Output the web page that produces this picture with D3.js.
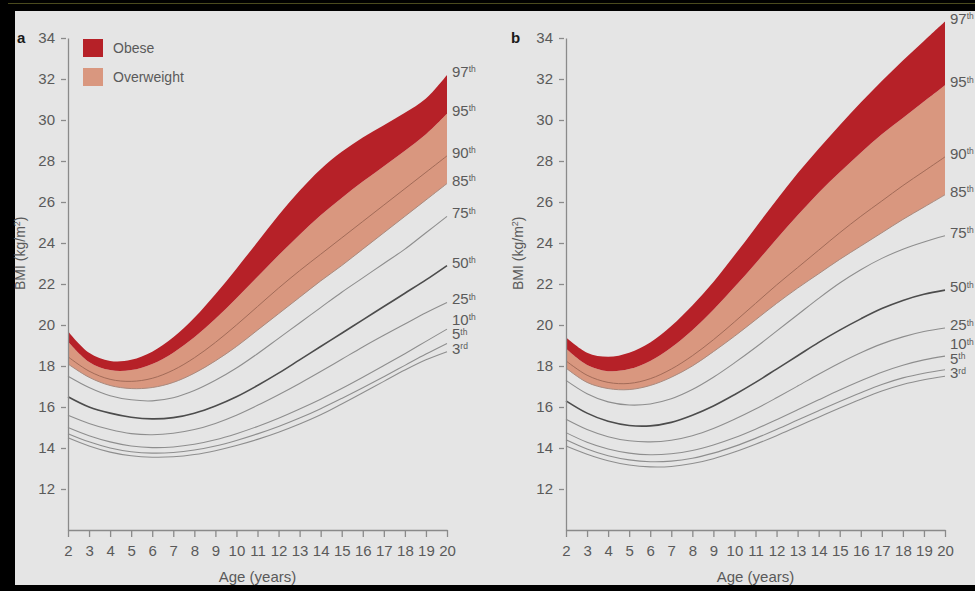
<!DOCTYPE html>
<html>
<head>
<meta charset="utf-8">
<script src="https://cdn.jsdelivr.net/npm/d3@7"></script>
<style>
  html, body { margin: 0; padding: 0; background: #000; }
  svg { display: block; }
  text { font-family: "Liberation Sans", Arial, sans-serif; }
</style>
</head>
<body>
<svg id="chart" width="975" height="591"></svg>
<script>
// Age in years (x axis) and BMI ticks (y axis)
const ages = [2, 3, 4, 5, 6, 7, 8, 9, 10, 11, 12, 13, 14, 15, 16, 17, 18, 19, 20];
const bmiTicks = [12, 14, 16, 18, 20, 22, 24, 26, 28, 30, 32, 34];

// Percentile labels (number + ordinal suffix)
const pctNumbers = ["3", "5", "10", "25", "50", "75", "85", "90", "95", "97"];
const pctSuffixes = ["rd", "th", "th", "th", "th", "th", "th", "th", "th", "th"];

// Panel a: BMI-for-age percentiles, boys
const boys3  = [14.5, 14.1, 13.8, 13.62, 13.55, 13.57, 13.68, 13.87, 14.12, 14.42, 14.77, 15.17, 15.62, 16.15, 16.7, 17.25, 17.8, 18.3, 18.7];
const boys5  = [14.7, 14.3, 14.0, 13.82, 13.75, 13.78, 13.9, 14.1, 14.37, 14.69, 15.05, 15.46, 15.92, 16.42, 16.94, 17.48, 18.03, 18.58, 19.1];
const boys10 = [15.0, 14.6, 14.3, 14.1, 14.02, 14.05, 14.18, 14.4, 14.7, 15.05, 15.45, 15.9, 16.38, 16.9, 17.45, 18.02, 18.6, 19.2, 19.8];
const boys25 = [15.6, 15.2, 14.9, 14.7, 14.65, 14.72, 14.9, 15.2, 15.6, 16.08, 16.6, 17.15, 17.73, 18.33, 18.93, 19.5, 20.05, 20.6, 21.1];
const boys50 = [16.5, 16.0, 15.7, 15.5, 15.42, 15.48, 15.7, 16.05, 16.5, 17.05, 17.65, 18.3, 18.95, 19.6, 20.25, 20.9, 21.55, 22.2, 22.9];
const boys75 = [17.5, 16.95, 16.55, 16.35, 16.3, 16.45, 16.8, 17.3, 17.9, 18.6, 19.35, 20.1, 20.85, 21.6, 22.3, 23.0, 23.7, 24.5, 25.3];
const boys85 = [18.1, 17.45, 17.05, 16.9, 16.95, 17.2, 17.65, 18.25, 18.95, 19.75, 20.55, 21.35, 22.15, 22.9, 23.7, 24.5, 25.3, 26.1, 26.9];
const boys90 = [18.45, 17.75, 17.35, 17.25, 17.4, 17.8, 18.4, 19.15, 20.0, 20.9, 21.8, 22.65, 23.45, 24.25, 25.05, 25.85, 26.65, 27.45, 28.25];
const boys95 = [19.2, 18.2, 17.8, 17.8, 18.1, 18.65, 19.4, 20.3, 21.3, 22.35, 23.4, 24.4, 25.35, 26.2, 27.0, 27.75, 28.5, 29.3, 30.3];
const boys97 = [19.7, 18.65, 18.25, 18.3, 18.7, 19.4, 20.35, 21.5, 22.75, 24.05, 25.35, 26.55, 27.6, 28.45, 29.15, 29.75, 30.35, 31.05, 32.2];

// Panel b: BMI-for-age percentiles, girls
const girls3  = [14.1, 13.7, 13.38, 13.17, 13.08, 13.1, 13.24, 13.48, 13.8, 14.18, 14.6, 15.05, 15.5, 15.95, 16.38, 16.78, 17.1, 17.33, 17.5];
const girls5  = [14.4, 13.95, 13.62, 13.42, 13.33, 13.36, 13.5, 13.75, 14.08, 14.47, 14.9, 15.36, 15.82, 16.27, 16.7, 17.1, 17.42, 17.65, 17.82];
const girls10 = [14.75, 14.28, 13.95, 13.75, 13.67, 13.72, 13.88, 14.15, 14.5, 14.92, 15.38, 15.86, 16.35, 16.83, 17.28, 17.7, 18.04, 18.3, 18.48];
const girls25 = [15.4, 14.9, 14.55, 14.35, 14.3, 14.38, 14.6, 14.95, 15.4, 15.9, 16.45, 17.02, 17.6, 18.15, 18.65, 19.08, 19.42, 19.68, 19.85];
const girls50 = [16.3, 15.7, 15.3, 15.1, 15.08, 15.25, 15.6, 16.05, 16.6, 17.2, 17.85, 18.5, 19.15, 19.75, 20.3, 20.8, 21.2, 21.5, 21.7];
const girls75 = [17.3, 16.65, 16.25, 16.1, 16.15, 16.4, 16.85, 17.45, 18.15, 18.9, 19.7, 20.5, 21.3, 22.05, 22.7, 23.25, 23.7, 24.05, 24.35];
const girls85 = [17.9, 17.2, 16.9, 16.85, 17.05, 17.45, 18.0, 18.7, 19.45, 20.25, 21.05, 21.8, 22.5, 23.2, 23.85, 24.5, 25.15, 25.75, 26.35];
const girls90 = [18.25, 17.55, 17.2, 17.15, 17.38, 17.85, 18.5, 19.28, 20.15, 21.05, 21.95, 22.8, 23.65, 24.5, 25.3, 26.05, 26.8, 27.5, 28.2];
const girls95 = [18.85, 18.05, 17.75, 17.85, 18.25, 18.9, 19.75, 20.75, 21.85, 23.0, 24.2, 25.35, 26.45, 27.45, 28.4, 29.3, 30.1, 30.9, 31.7];
const girls97 = [19.4, 18.65, 18.45, 18.65, 19.15, 19.95, 20.95, 22.1, 23.4, 24.75, 26.1, 27.4, 28.6, 29.75, 30.85, 31.9, 32.9, 33.85, 34.8];

const legendLabels = ["Obese", "Overweight"];
const panelLetters = ["a", "b"];

// ---------------------------------------------------------------
const COL = {
  bg: "#e5e5e5",
  obese: "#b62128",
  over: "#d9977f",
  line: "#8e8e8e",
  median: "#4c4c4c",
  inner: "#a26b58",
  axis: "#8a8a8a",
  text: "#5a5a5a"
};

const svg = d3.select("#chart");

// black frame and grey plate
svg.append("rect").attr("width", 975).attr("height", 591).attr("fill", "#000");
svg.append("line").attr("x1", 8).attr("x2", 975).attr("y1", 3.5).attr("y2", 3.5)
  .attr("stroke", "#4a4a1e").attr("stroke-width", 1);
svg.append("rect").attr("x", 15).attr("y", 11).attr("width", 960).attr("height", 574).attr("fill", COL.bg);

function drawPanel(opts) {
  const series = opts.series; // ordered 3rd..97th
  const x = d3.scaleLinear().domain([2, 20]).range([opts.left, opts.left + 379]);
  const y = d3.scaleLinear().domain([10, 34]).range([530, 38]);
  const curve = d3.curveCatmullRom.alpha(0.5);
  const g = svg.append("g");

  const rows = ages.map((a, i) => {
    const r = { age: a };
    series.forEach((s, k) => { r["p" + pctNumbers[k]] = s[i]; });
    return r;
  });

  const band = (lo, hi) => d3.area().curve(curve)
    .x(d => x(d.age)).y0(d => y(d[lo])).y1(d => y(d[hi]));

  g.append("path").datum(rows).attr("d", band("p85", "p95")).attr("fill", COL.over);
  g.append("path").datum(rows).attr("d", band("p95", "p97")).attr("fill", COL.obese);

  const lineGen = key => d3.line().curve(curve).x(d => x(d.age)).y(d => y(d[key]));
  pctNumbers.forEach(p => {
    if (p === "95" || p === "97") return;
    let stroke = COL.line, w = 1.1;
    if (p === "50") { stroke = COL.median; w = 1.6; }
    if (p === "90") { stroke = COL.inner; w = 1; }
    if (p === "85") { stroke = "#a98a7e"; w = 1; }
    g.append("path").datum(rows).attr("d", lineGen("p" + p))
      .attr("fill", "none").attr("stroke", stroke).attr("stroke-width", w);
  });

  // percentile labels at the right end, pushed apart where lines crowd
  const ends = series.map(s => y(s[s.length - 1]) - 3);
  const labelY = ends.slice();
  for (let k = 1; k < labelY.length; k++) {
    labelY[k] = Math.min(labelY[k], labelY[k - 1] - 14.5);
  }
  pctNumbers.forEach((p, k) => {
    const t = g.append("text")
      .attr("x", x(20) + 5).attr("y", labelY[k] + 5)
      .attr("fill", COL.text).attr("font-size", 15);
    t.append("tspan").text(p);
    t.append("tspan").text(pctSuffixes[k]).attr("font-size", 8.5).attr("dy", -4.5);
  });

  // axes
  const yAxis = g.append("g").attr("transform", `translate(${opts.left},0)`)
    .call(d3.axisLeft(y).tickValues(bmiTicks).tickSize(7).tickSizeOuter(0).tickPadding(6));
  const xAxis = g.append("g").attr("transform", "translate(0,530)")
    .call(d3.axisBottom(x).tickValues(ages).tickSize(7).tickSizeOuter(0).tickPadding(8));
  [yAxis, xAxis].forEach(ax => {
    ax.select(".domain").attr("stroke", COL.axis).attr("stroke-width", 1.3);
    ax.selectAll(".tick line").attr("stroke", COL.axis).attr("stroke-width", 1.3);
    ax.selectAll(".tick text").attr("fill", COL.text).attr("font-size", 15)
      .attr("font-family", "'Liberation Sans', Arial, sans-serif");
  });
  yAxis.selectAll(".tick line").attr("x1", -2);

  g.append("text")
    .attr("transform", `translate(${opts.left - 43},${y(23.5)}) rotate(-90)`)
    .attr("text-anchor", "middle").attr("fill", COL.text).attr("font-size", 14)
    .call(t => {
      t.append("tspan").text("BMI (kg/m");
      t.append("tspan").text("2").attr("font-size", 9).attr("dy", -5);
      t.append("tspan").text(")").attr("dy", 5);
    });

  g.append("text")
    .attr("x", (x(2) + x(20)) / 2).attr("y", 582)
    .attr("text-anchor", "middle").attr("fill", COL.text).attr("font-size", 15)
    .text("Age (years)");

  g.append("text")
    .attr("x", opts.left - opts.letterGap).attr("y", 43)
    .attr("fill", "#1a1a1a").attr("font-size", 15).attr("font-weight", "bold")
    .text(opts.letter);

  return { x, y, g };
}

drawPanel({
  left: 68, letter: panelLetters[0], letterGap: 51,
  series: [boys3, boys5, boys10, boys25, boys50, boys75, boys85, boys90, boys95, boys97]
});
drawPanel({
  left: 566, letter: panelLetters[1], letterGap: 55,
  series: [girls3, girls5, girls10, girls25, girls50, girls75, girls85, girls90, girls95, girls97]
});

// legend
const legend = svg.append("g").attr("transform", "translate(83,39)");
[COL.obese, COL.over].forEach((c, i) => {
  legend.append("rect").attr("x", 0).attr("y", i * 29).attr("width", 20).attr("height", 18).attr("fill", c);
  legend.append("text").attr("x", 30).attr("y", i * 29 + 14)
    .attr("fill", COL.text).attr("font-size", 14).text(legendLabels[i]);
});
</script>
</body>
</html>
